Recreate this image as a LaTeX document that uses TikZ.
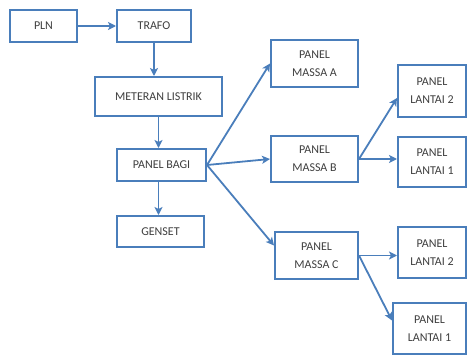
\documentclass[tikz,border=0pt]{standalone}
\usepackage{fontspec}
\setmainfont{Carlito}
\usetikzlibrary{arrows.meta}
\definecolor{boxblue}{HTML}{4A7EBB}
\definecolor{txtgray}{HTML}{3F3F3F}
\begin{document}
\begin{tikzpicture}[x=1pt,y=-1pt,
  box/.style={draw=boxblue,line width=2pt,fill=white,inner sep=0pt,
    text=txtgray,align=center,font=\fontsize{12}{18}\selectfont},
  arr/.style={draw=boxblue,line width=1.8pt,-{Stealth[length=8pt,width=8pt,inset=2pt]}}]
\useasboundingbox (0,0) rectangle (467,356);
\node[box,minimum width=67pt,minimum height=32pt] (pln) at (43.5,26) {PLN};
\node[box,minimum width=74pt,minimum height=32pt] (trafo) at (154,26) {TRAFO};
\node[box,minimum width=127pt,minimum height=39pt] (meter) at (158.5,96.5) {METERAN LISTRIK};
\node[box,minimum width=89pt,minimum height=32pt] (bagi) at (161.5,165) {PANEL BAGI};
\node[box,minimum width=87pt,minimum height=31pt] (genset) at (160.5,231.5) {GENSET};
\node[box,minimum width=87pt,minimum height=47pt] (ma) at (314.5,63.5) {PANEL\\MASSA A};
\node[box,minimum width=87pt,minimum height=46pt] (mb) at (314.5,159) {PANEL\\MASSA B};
\node[box,minimum width=83pt,minimum height=47pt] (mc) at (316.5,255.5) {PANEL\\MASSA C};
\node[box,minimum width=68pt,minimum height=52pt] (ltwoa) at (432,91) {PANEL\\LANTAI 2};
\node[box,minimum width=68pt,minimum height=50pt] (lonea) at (432,162) {PANEL\\LANTAI 1};
\node[box,minimum width=68pt,minimum height=51pt] (ltwob) at (432,252.5) {PANEL\\LANTAI 2};
\node[box,minimum width=73pt,minimum height=51pt] (loneb) at (429.5,328.5) {PANEL\\LANTAI 1};
\draw[arr] (pln.east) -- (trafo.west);
\draw[arr] (trafo.south) -- (trafo.south |- meter.north);
\draw[arr] (meter.south) -- (meter.south |- bagi.north);
\draw[arr] ([xshift=-3pt]bagi.south) -- ([xshift=-3pt]bagi.south |- genset.north);
\draw[arr] (bagi.east) -- (ma.west);
\draw[arr] (bagi.east) -- (mb.west);
\draw[arr] (bagi.east) -- ([yshift=10pt]mc.west);
\draw[arr] (mb.east) -- ([yshift=-7pt]ltwoa.west);
\draw[arr] (mb.east) -- (mb.east -| lonea.west);
\draw[arr] (mc.east) -- (mc.east -| ltwob.west);
\draw[arr] (mc.east) -- ([yshift=8pt]loneb.west);
\end{tikzpicture}
\end{document}
